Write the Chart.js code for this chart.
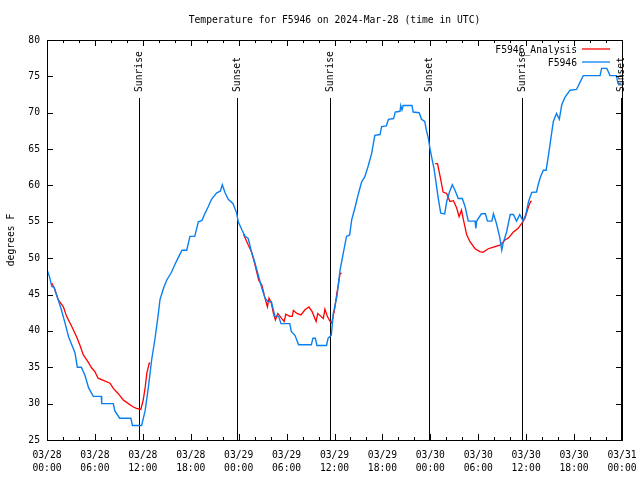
<!DOCTYPE html>
<html><head><meta charset="utf-8">
<script src="https://cdn.jsdelivr.net/npm/chart.js@4/dist/chart.umd.min.js"></script>
<style>html,body{margin:0;padding:0;background:#fff}</style>
</head><body>
<canvas id="c" width="640" height="480"></canvas>
<script>
const TITLE = "Temperature for F5946 on 2024-Mar-28 (time in UTC)";
const Y_LABEL = "degrees F";
const xTickDates = ["03/28","03/28","03/28","03/28","03/29","03/29","03/29","03/29","03/30","03/30","03/30","03/30","03/31"];
const xTickTimes = ["00:00","06:00","12:00","18:00","00:00","06:00","12:00","18:00","00:00","06:00","12:00","18:00","00:00"];
const seriesNames = ["F5946_Analysis", "F5946"];

// hours since 03/28 00:00 UTC
const obsHours = [0.0,0.3,0.6,0.9,1.4,1.8,2.25,2.7,3.1,3.5,3.8,4.3,4.75,5.2,5.8,6.8,6.85,8.3,8.5,9.1,10.5,10.7,11.85,12.3,12.7,13.1,13.5,13.9,14.15,14.6,15.0,15.6,16.0,16.4,16.9,17.5,17.9,18.5,18.95,19.4,19.8,20.2,20.6,21.25,21.7,21.95,22.3,22.7,23.3,23.75,23.95,24.4,24.8,25.2,25.6,26.0,26.5,26.9,27.3,27.7,28.1,28.3,28.55,29.0,29.3,30.4,30.6,31.05,31.5,33.1,33.3,33.6,33.8,35.0,35.2,35.6,35.85,36.3,36.7,37.1,37.5,37.9,38.15,38.6,39.0,39.4,39.8,40.2,40.65,41.05,41.7,41.9,42.5,42.75,43.4,43.6,44.2,44.3,44.45,44.6,45.7,45.85,46.6,46.9,47.3,47.5,47.75,47.95,48.2,48.45,48.7,49.0,49.3,49.8,50.05,50.4,50.75,51.1,51.5,52.0,52.35,52.75,53.6,53.7,53.8,54.4,54.9,55.15,55.7,55.9,56.3,56.7,56.95,57.1,57.55,58.0,58.4,58.8,59.2,59.6,59.95,60.3,60.7,61.3,61.5,61.8,62.15,62.5,62.8,63.1,63.4,63.8,64.15,64.45,64.85,65.5,66.3,66.75,67.15,69.25,69.45,70.1,70.5,71.3,71.5,71.9];
const obsTemps = [48.4,47.5,46.1,46,44.3,42.9,41.1,39.2,38.1,37,35,35,33.9,32.2,31,31,30,30,29,28,28,27,27,29.1,32.3,36,38.75,42,44.3,45.9,47,48.1,49.1,50,51.1,51.1,53,53,55,55.2,56.2,57.1,58.1,59,59.2,60.1,59,58.1,57.5,56.2,55,53.9,53,52.7,50.9,49.5,47.5,45.9,44.5,44,44,43.1,42,42,41,41,39.9,39.4,38.1,38.1,39,39,38,38,39,39.4,42.4,44.7,48.4,50.7,53,53.2,55.25,57.1,58.9,60.5,61.2,62.6,64.4,66.9,67,68.1,68.2,69.1,69.2,70.1,70.2,71,70.4,71,71,70.1,70,69.1,68.8,67.6,66.5,65.1,63.7,62.4,60.5,58.2,56.2,56.1,57.8,59.1,60.1,59.3,58.2,58.2,57.1,55.1,55.1,54.1,55.1,56.1,56.1,55.1,55.1,56.1,54.7,52.8,51.1,52,53.6,56,56,55.1,56,55.1,56,57.8,59.05,59.1,60.1,61.2,62.1,62.1,64.2,66.5,68.8,69.9,69.1,71.06,72.1,73.1,73.2,74.2,75.1,75.1,76.1,76.1,75.1,75.1,74,74];

const anaHours = [0.6,0.9,1.4,2.05,2.45,3.1,3.7,4.1,4.55,5.1,5.6,6.0,6.4,7.05,7.9,8.3,8.9,9.55,10.2,10.7,11.2,11.75,12.05,12.3,12.5,12.8,12.9,
  18,
  24.6,25.2,25.6,26.0,26.5,26.9,27.3,27.6,27.8,28.1,28.35,28.6,28.9,29.4,29.7,29.9,30.4,30.7,30.85,31.3,31.8,32.3,32.8,33.2,33.7,33.9,34.3,34.6,34.8,35.1,35.45,35.65,36.0,36.3,36.5,36.7,36.9,
  42,
  48.6,48.9,49.2,49.6,50.05,50.45,50.9,51.3,51.6,51.9,52.1,52.55,52.95,53.6,54.2,54.6,55.25,55.7,56.7,57.35,57.8,58.4,59.0,59.45,59.85,60.3,60.55,60.7];
const anaTemps = [46.6,45.9,44.3,43.3,42,40.6,39.2,38.1,36.7,35.8,34.9,34.4,33.5,33.2,32.8,32.1,31.4,30.5,30,29.6,29.35,29.2,30.5,32.3,34.2,35.55,35.55,
  null,
  53.3,51.8,50.9,49.3,47,46.3,44.5,43.3,44.5,43.8,42.4,41.5,42.4,41.7,41.3,42.3,42,42,42.8,42.4,42.2,42.9,43.3,42.65,41.3,42.4,42,41.7,43,42,41.3,41.1,42.9,45.2,46.5,47.9,47.9,
  null,
  63,63,61.4,59.1,58.9,57.8,57.9,56.9,55.7,56.6,55.5,53.2,52.3,51.3,50.9,50.8,51.3,51.45,51.8,52.5,52.8,53.6,54.1,54.8,55.5,57.1,57.8,57.8];

const eventHours = [11.52, 23.79, 35.44, 47.83, 59.48, 71.88];
const eventLabels = ["Sunrise","Sunset","Sunrise","Sunset","Sunrise","Sunset"];

const FONT = "DejaVu Sans Mono";
const FS = 9.7;
const RED = "#ff0000";
const BLUE = "rgb(10,128,240)";

const toPts = (xs, ys) => xs.map((h, i) => ({x: h, y: ys[i]}));

const decor = {
  id: 'decor',
  beforeDatasetsDraw(chart) {
    const {ctx, chartArea: a, scales: {x}} = chart;
    ctx.save();
    ctx.strokeStyle = '#000';
    ctx.lineWidth = 1;
    ctx.beginPath();
    eventHours.forEach(h => {
      const px = Math.round(x.getPixelForValue(h)) + 0.5;
      ctx.moveTo(px, 98);
      ctx.lineTo(px, a.bottom);
    });
    ctx.stroke();
    ctx.restore();
  },
  afterDraw(chart) {
    const {ctx, chartArea: a, scales: {x, y}} = chart;
    ctx.save();
    ctx.strokeStyle = '#000';
    ctx.lineWidth = 1;
    ctx.strokeRect(Math.round(a.left) + 0.5, Math.round(a.top) + 0.5, Math.round(a.right - a.left), Math.round(a.bottom - a.top));
    ctx.beginPath();
    for (let h = 0; h <= 72; h += 2) {
      const px = Math.round(x.getPixelForValue(h)) + 0.5;
      const len = (h % 6 === 0) ? 6 : 3;
      ctx.moveTo(px, a.bottom); ctx.lineTo(px, a.bottom - len);
      ctx.moveTo(px, a.top); ctx.lineTo(px, a.top + len);
    }
    for (let t = 25; t <= 80; t += 5) {
      const py = Math.round(y.getPixelForValue(t)) + 0.5;
      ctx.moveTo(a.left, py); ctx.lineTo(a.left + 6, py);
      ctx.moveTo(a.right, py); ctx.lineTo(a.right - 6, py);
    }
    ctx.stroke();

    ctx.fillStyle = '#000';
    ctx.font = FS + "px '" + FONT + "'";
    eventHours.forEach((h, i) => {
      const px = x.getPixelForValue(h);
      ctx.save();
      ctx.translate(px + 0.5, 92);
      ctx.rotate(-Math.PI / 2);
      ctx.textAlign = 'left';
      ctx.textBaseline = 'middle';
      ctx.fillText(eventLabels[i], 0, 0);
      ctx.restore();
    });
    ctx.textAlign = 'center';
    ctx.textBaseline = 'middle';
    ctx.fillText(TITLE, (a.left + a.right) / 2, 20);
    ctx.save();
    ctx.translate(11, (a.top + a.bottom) / 2);
    ctx.rotate(-Math.PI / 2);
    ctx.fillText(Y_LABEL, 0, 0);
    ctx.restore();
    const colors = [RED, BLUE];
    const rows = [50, 63];
    seriesNames.forEach((name, i) => {
      ctx.fillStyle = '#000';
      ctx.textAlign = 'right';
      ctx.textBaseline = 'middle';
      ctx.fillText(name, 577, rows[i]);
      ctx.strokeStyle = colors[i];
      ctx.lineWidth = 1.3;
      ctx.beginPath();
      ctx.moveTo(582, rows[i] - 1);
      ctx.lineTo(610, rows[i] - 1);
      ctx.stroke();
    });
    ctx.restore();
  }
};

new Chart(document.getElementById('c'), {
  type: 'line',
  data: {
    datasets: [
      {label: seriesNames[0], data: toPts(anaHours, anaTemps), borderColor: RED, borderWidth: 1.3, pointRadius: 0, tension: 0, spanGaps: false, order: 2},
      {label: seriesNames[1], data: toPts(obsHours, obsTemps), borderColor: BLUE, borderWidth: 1.4, pointRadius: 0, tension: 0, spanGaps: false, order: 1}
    ]
  },
  options: {
    responsive: false,
    animation: false,
    devicePixelRatio: 1,
    layout: {padding: {left: 0, right: 18, top: 40, bottom: 0}},
    plugins: {legend: {display: false}, title: {display: false}, tooltip: {enabled: false}},
    scales: {
      x: {
        type: 'linear', min: 0, max: 72,
        grid: {display: false, drawTicks: false},
        border: {display: false},
        ticks: {
          stepSize: 6, autoSkip: false, maxRotation: 0, minRotation: 0, padding: 9, color: '#000',
          font: {family: FONT, size: FS, lineHeight: 1.35},
          callback: (v) => { const i = Math.round(v / 6); return [xTickDates[i], xTickTimes[i]]; }
        },
        afterFit: (s) => { s.height = 40; s.paddingLeft = 0; s.paddingRight = 0; }
      },
      y: {
        min: 25, max: 80,
        grid: {display: false, drawTicks: false},
        border: {display: false},
        ticks: {stepSize: 5, padding: 7, color: '#000', font: {family: FONT, size: FS}},
        afterFit: (s) => { s.width = 47; s.paddingTop = 0; s.paddingBottom = 0; }
      }
    }
  },
  plugins: [decor]
});
</script>
</body></html>
